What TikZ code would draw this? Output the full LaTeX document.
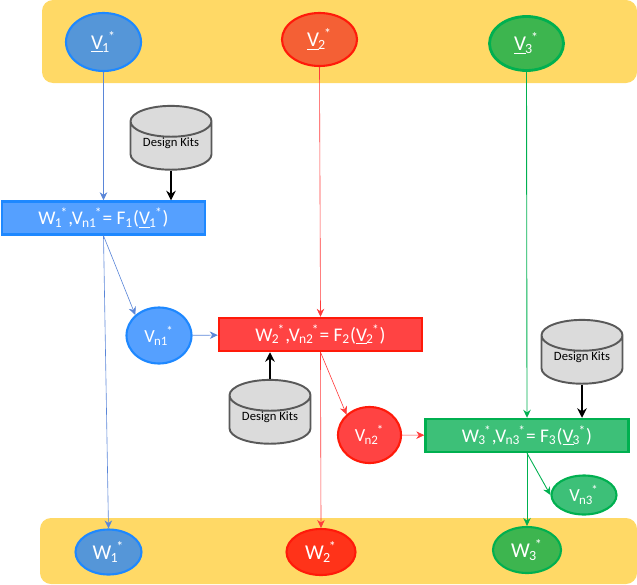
\documentclass[tikz,border=0pt]{standalone}
\usepackage{xcolor}
\usepackage{fontspec}
\setmainfont{Carlito}
\usepackage{tikz}
\usetikzlibrary{arrows.meta,positioning,shapes}
\definecolor{bandyellow}{HTML}{FFD966}
\definecolor{fillblue}{HTML}{5596D8}
\definecolor{lineblue}{HTML}{1E88FF}
\definecolor{liteblue}{HTML}{55A0FF}
\definecolor{arrowblue}{HTML}{5A86D8}
\definecolor{fillorange}{HTML}{F46035}
\definecolor{linered}{HTML}{FF1A0A}
\definecolor{litered}{HTML}{FF4343}
\definecolor{fillred}{HTML}{FF3319}
\definecolor{arrowred}{HTML}{FF3B3B}
\definecolor{fillgreen}{HTML}{3DB54F}
\definecolor{linegreen}{HTML}{00B050}
\definecolor{litegreen}{HTML}{3DC078}
\tikzset{
  band/.style={fill=bandyellow,rounded corners=2.2mm,inner sep=0pt},
  varnode/.style={ellipse,draw,line width=1.2pt,inner sep=0pt,text=white,font=\fontsize{12}{14}\selectfont},
  subnode/.style={varnode,font=\fontsize{10.5}{12}\selectfont},
  fbox/.style={rectangle,draw,line width=1.4pt,inner sep=0pt,minimum width=4.06cm,minimum height=0.66cm,text=white,font=\fontsize{11}{14}\selectfont},
  kitnode/.style={cylinder,shape border rotate=90,aspect=0.55,draw=black!65,fill=black!14,line width=1.1pt,inner sep=0pt,minimum width=1.62cm,minimum height=1.12cm,text depth=4.5pt,font=\fontsize{7.2}{9}\selectfont},
  blueedge/.style={-{Stealth[length=1.6mm,width=1.5mm]},arrowblue,line width=0.35pt},
  rededge/.style={-{Stealth[length=1.6mm,width=1.5mm]},arrowred,line width=0.35pt},
  greenedge/.style={-{Stealth[length=1.6mm,width=1.5mm]},linegreen,line width=0.5pt},
  kitedge/.style={-{Stealth[length=1.9mm,width=1.9mm]},black,line width=1.2pt},
}
\newcommand{\lblstar}[2]{#1\kern-.04em\textsubscript{#2}\kern-.1em\textsuperscript{*}}
\newcommand{\lblvec}[1]{\underline{V}\kern-.04em\textsubscript{#1}\kern-.1em\textsuperscript{*}}
\begin{document}
\begin{tikzpicture}
  \useasboundingbox (0,0) rectangle (12.74,11.68);
  \node[band,minimum width=11.90cm,minimum height=1.66cm] (nTop) at (6.79,10.85) {};
  \node[band,minimum width=11.94cm,minimum height=1.32cm] (nBot) at (6.77,0.66) {};

  \node[varnode,fill=fillblue,draw=lineblue,minimum width=1.5cm,minimum height=1.16cm] (nV1) at (2.07,10.84) {\lblvec{1}};
  \node[varnode,fill=fillorange,draw=linered,minimum width=1.5cm,minimum height=1.06cm] (nV2) at (6.39,10.89) {\lblvec{2}};
  \node[varnode,fill=fillgreen,draw=linegreen,line width=1.6pt,minimum width=1.48cm,minimum height=1.08cm] (nV3) at (10.53,10.81) {\lblvec{3}};

  \node[kitnode] (nKit1) at (3.42,8.76) {Design Kits};
  \node[kitnode] (nKit2) at (5.40,3.28) {Design Kits};
  \node[kitnode] (nKit3) at (11.64,4.48) {Design Kits};

  \node[fbox,fill=liteblue,draw=lineblue] (nF1) at (2.07,7.32) {\lblstar{W}{1},\lblstar{V}{n1}= F\textsubscript{1}(\lblvec{1})};
  \node[fbox,fill=litered,draw=linered] (nF2) at (6.41,4.99) {\lblstar{W}{2},\lblstar{V}{n2}= F\textsubscript{2}(\lblvec{2})};
  \node[fbox,fill=litegreen,draw=linegreen] (nF3) at (10.54,2.97) {\lblstar{W}{3},\lblstar{V}{n3}= F\textsubscript{3}(\lblvec{3})};

  \node[subnode,fill=liteblue,draw=lineblue,minimum width=1.3cm,minimum height=1.12cm] (nVn1) at (3.18,4.97) {\lblstar{V}{n1}};
  \node[subnode,fill=litered,draw=linered,minimum width=1.26cm,minimum height=1.12cm] (nVn2) at (7.39,2.98) {\lblstar{V}{n2}};
  \node[subnode,fill=litegreen,draw=linegreen,minimum width=1.3cm,minimum height=0.78cm] (nVn3) at (11.68,1.78) {\lblstar{V}{n3}};

  \node[varnode,fill=fillblue,draw=lineblue,minimum width=1.32cm,minimum height=0.9cm] (nW1) at (2.17,0.64) {\lblstar{W}{1}};
  \node[varnode,fill=fillred,draw=linered,minimum width=1.38cm,minimum height=0.92cm] (nW2) at (6.42,0.64) {\lblstar{W}{2}};
  \node[varnode,fill=fillgreen,draw=linegreen,minimum width=1.36cm,minimum height=0.92cm] (nW3) at (10.54,0.68) {\lblstar{W}{3}};

  \draw[blueedge] (nV1) -- (nF1);
  \draw[blueedge] (nF1.south) -- (nVn1.north west);
  \draw[blueedge] (nF1.south) -- (nW1.north);
  \draw[blueedge] (nVn1) -- (nF2);
  \draw[rededge] (nV2.south) -- (nF2.north);
  \draw[rededge] (nF2.south) -- (nVn2.north west);
  \draw[rededge] (nF2.south) -- (nW2.north);
  \draw[rededge] (nVn2) -- (nF3);
  \draw[greenedge] (nV3.south) -- (nF3.north);
  \draw[greenedge] (nF3.south) -- (nVn3.west);
  \draw[greenedge] (nF3.south) -- (nW3.north);
  \draw[kitedge] (nKit1.south) -- (nKit1.south |- nF1.north);
  \draw[kitedge] (nKit2.north) -- (nKit2.north |- nF2.south);
  \draw[kitedge] (nKit3.south) -- (nKit3.south |- nF3.north);
\end{tikzpicture}
\end{document}
